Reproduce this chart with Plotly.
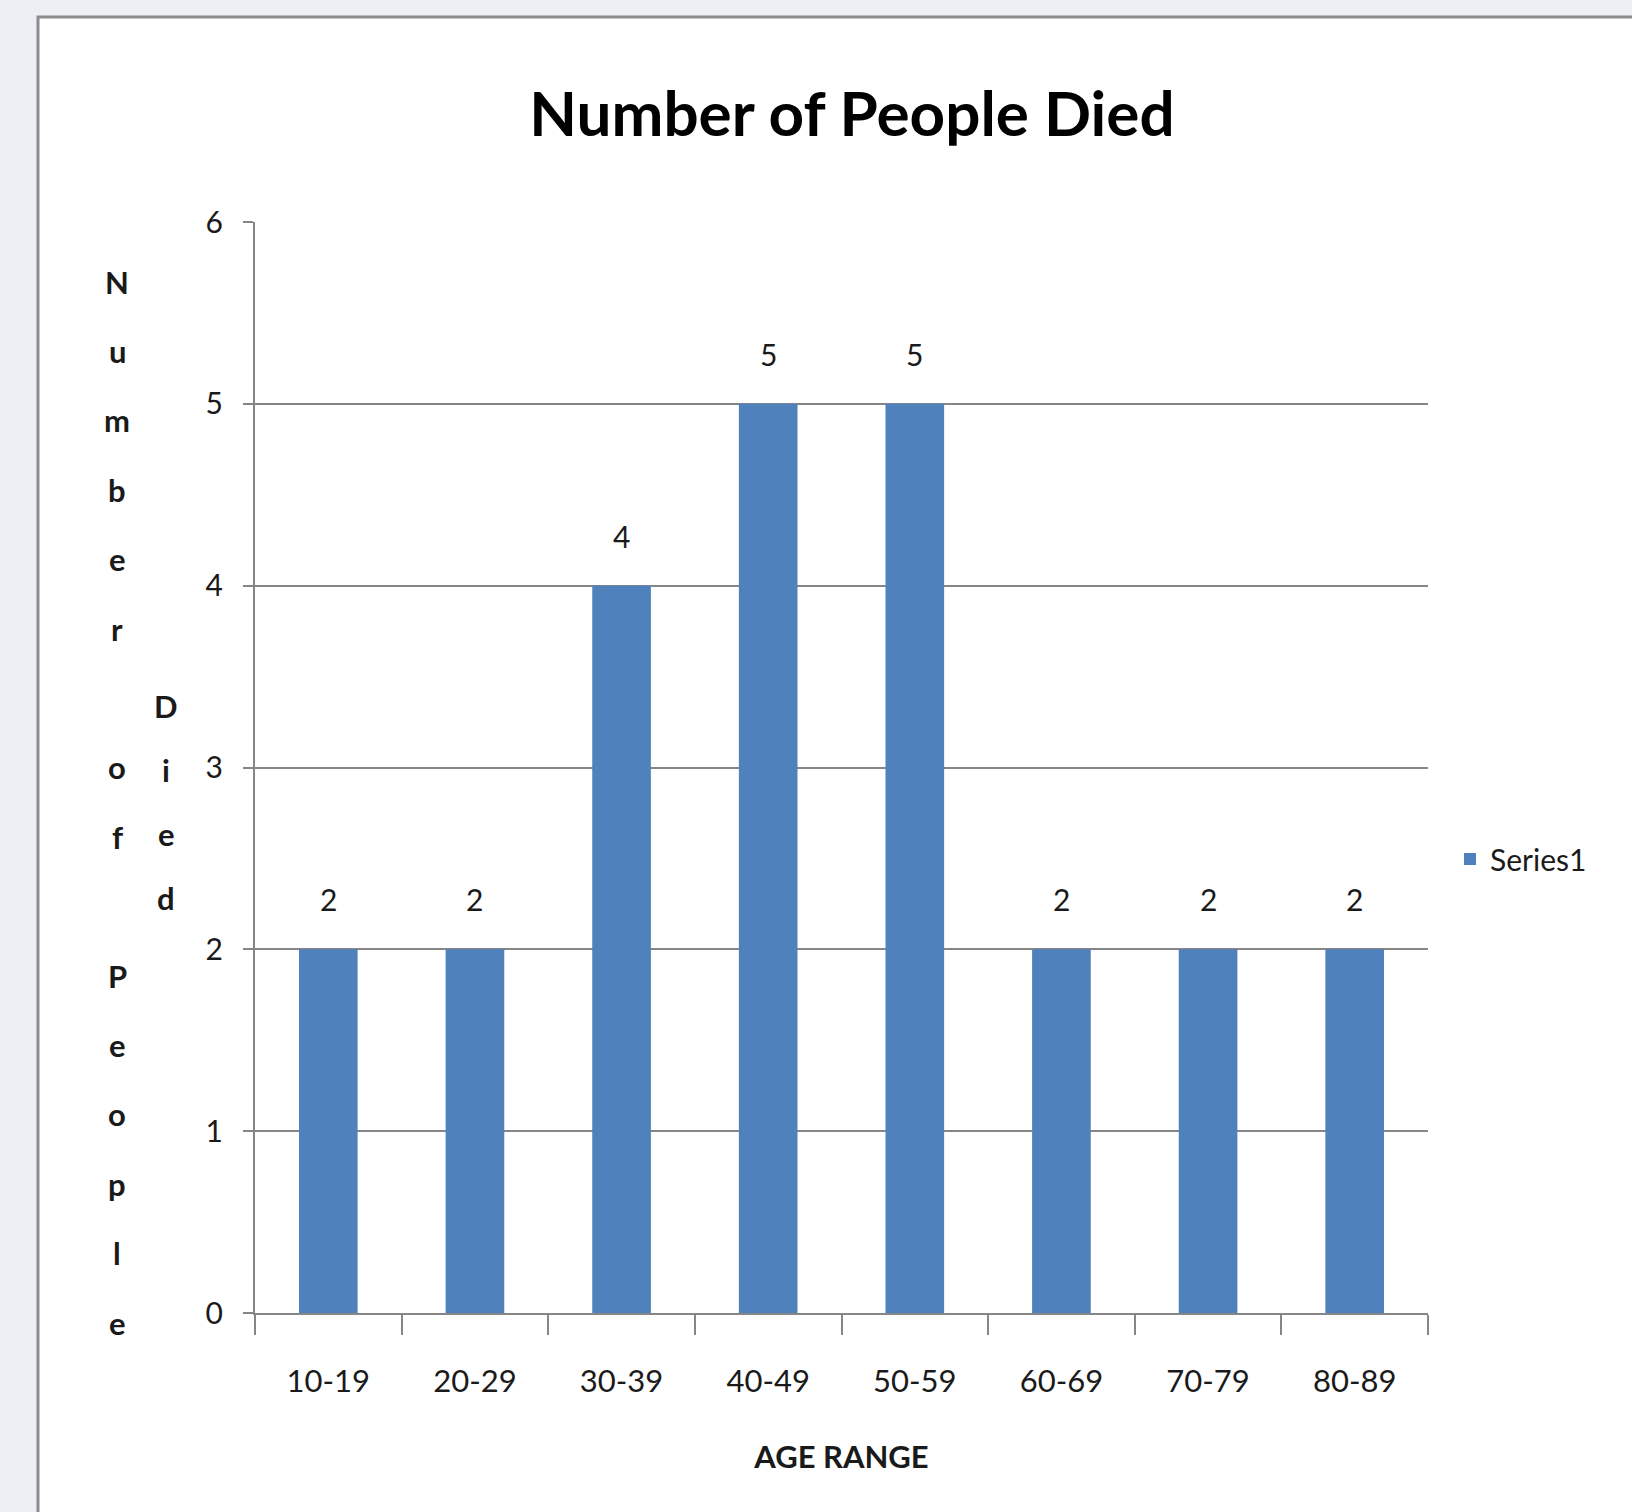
import plotly.graph_objects as go

categories = ["10-19", "20-29", "30-39", "40-49", "50-59", "60-69", "70-79", "80-89"]
deaths = [2, 2, 4, 5, 5, 2, 2, 2]
y_ticks = [0, 1, 2, 3, 4, 5, 6]
series_name = "Series1"
title_text = "Number of People Died"
x_title = "AGE RANGE"
y_title_col1 = "Number of People"
y_title_col2 = "Died"

W, H = 1632, 1512
L, R, T, B = 255, 204, 222, 199
PW, PH = W - L - R, H - T - B

def px_x(px):
    return (px - L) / PW

def px_y(py):
    return (H - B - py) / PH

FONT = "Lato"
BAR = "#4F81BD"
GRID = "#868686"

fig = go.Figure()
fig.add_trace(go.Bar(
    x=categories, y=deaths, name=series_name,
    marker=dict(color=BAR, line=dict(width=0)),
    showlegend=True,
))

annotations = []
# data labels
for c, v in zip(categories, deaths):
    annotations.append(dict(x=c, y=v, xref="x", yref="y", text=str(v),
                            showarrow=False, yanchor="middle", yshift=50,
                            font=dict(family=FONT, size=30, color="#1a1a1a")))

# stacked y-axis title letters
step = 69.4
col1_x = px_x(117)
col2_x = px_x(166)
center_y = 802
n1 = len(y_title_col1)
for i, ch in enumerate(y_title_col1):
    if ch == " ":
        continue
    py = center_y + (i - (n1 - 1) / 2) * step
    annotations.append(dict(x=col1_x, y=px_y(py), xref="paper", yref="paper",
                            text=ch, showarrow=False, xanchor="center", yanchor="middle",
                            font=dict(family=FONT, size=31, color="#1a1a1a", weight="bold")))
n2 = len(y_title_col2)
for i, ch in enumerate(y_title_col2):
    py = center_y + (i - (n2 - 1) / 2) * 64
    annotations.append(dict(x=col2_x, y=px_y(py), xref="paper", yref="paper",
                            text=ch, showarrow=False, xanchor="center", yanchor="middle",
                            font=dict(family=FONT, size=31, color="#1a1a1a", weight="bold")))

fig.update_layout(
    width=W, height=H,
    margin=dict(l=L, r=R, t=T, b=B, pad=0),
    paper_bgcolor="#EDEFF4",
    plot_bgcolor="white",
    bargap=0.6,
    title=dict(text=title_text, xref="container", x=852 / W, xanchor="center",
               y=1 - 114 / H, yanchor="middle",
               font=dict(family=FONT, size=62, color="#000000", weight="bold")),
    xaxis=dict(
        type="category",
        showline=True, linecolor=GRID, linewidth=2,
        ticks="outside", tickson="boundaries", ticklen=20, tickwidth=2, tickcolor=GRID,
        showgrid=False,
        tickfont=dict(family=FONT, size=31, color="#1a1a1a"),
        ticklabelstandoff=40,
        title=dict(text=x_title, standoff=48,
                   font=dict(family=FONT, size=31, color="#1a1a1a", weight="bold")),
        range=[-0.5, len(categories) - 0.5],
    ),
    yaxis=dict(
        range=[0, 6], tickvals=y_ticks,
        showline=True, linecolor=GRID, linewidth=2,
        ticks="outside", ticklen=10, tickwidth=2, tickcolor=GRID,
        showgrid=True, gridcolor=GRID, gridwidth=2,
        zeroline=False,
        tickfont=dict(family=FONT, size=30, color="#1a1a1a"),
        ticklabelstandoff=14,
    ),
    legend=dict(x=px_x(1450), y=px_y(859), xanchor="left", yanchor="middle",
                bgcolor="rgba(0,0,0,0)", font=dict(family=FONT, size=30, color="#1a1a1a"),
                itemwidth=30),
    annotations=annotations,
    shapes=[dict(type="rect", xref="paper", yref="paper", layer="below",
                 x0=px_x(38), x1=px_x(1650), y0=px_y(1530), y1=px_y(17),
                 fillcolor="white", line=dict(color="#8C8C8C", width=3))],
)

fig.write_html("out.html")
